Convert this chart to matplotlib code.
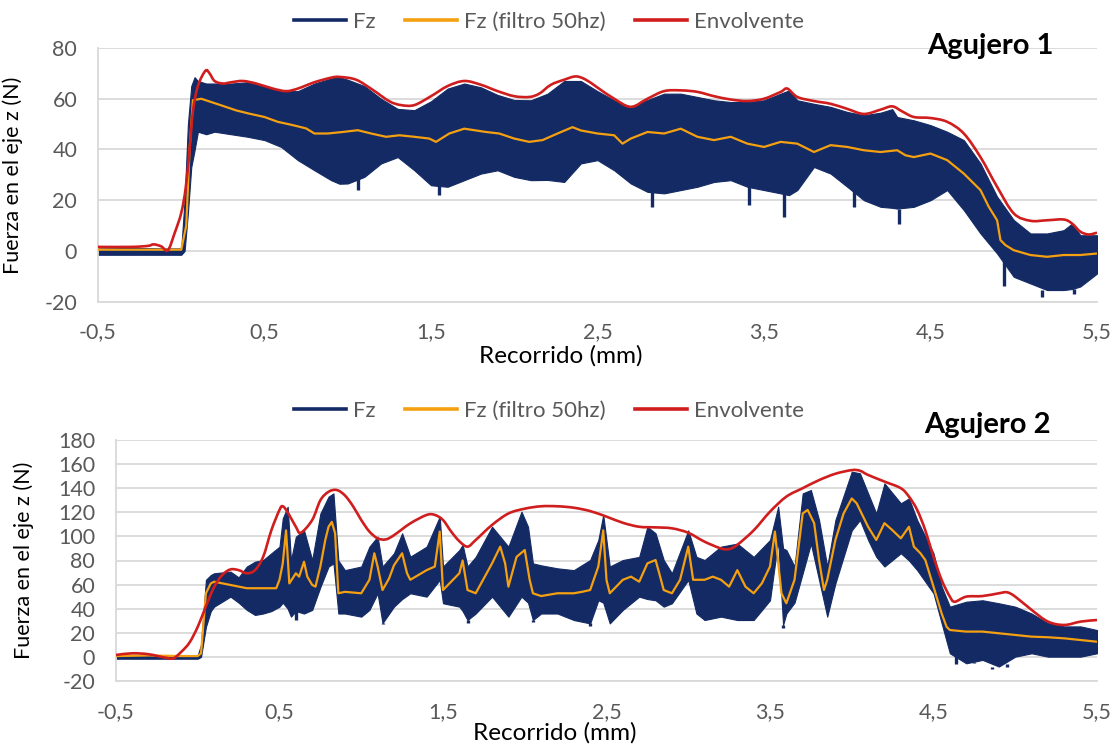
import matplotlib
matplotlib.use("Agg")
import matplotlib.pyplot as plt
from matplotlib.lines import Line2D
from matplotlib.path import Path
from matplotlib.patches import PathPatch
from matplotlib.ticker import FixedLocator, FuncFormatter

# ---------------- Agujero 1 ----------------
x_band1 = [-0.5, -0.3, -0.1, 0.0, 0.02, 0.04, 0.06, 0.08, 0.1, 0.15, 0.2, 0.3, 0.4, 0.5,
           0.6, 0.7, 0.8, 0.9, 0.95, 1.0, 1.1, 1.2, 1.3, 1.4, 1.5, 1.6, 1.7, 1.8, 1.9,
           2.0, 2.1, 2.2, 2.3, 2.4, 2.5, 2.6, 2.7, 2.8, 2.9, 3.0, 3.1, 3.2, 3.3, 3.4,
           3.5, 3.6, 3.65, 3.7, 3.8, 3.9, 4.0, 4.1, 4.2, 4.27, 4.3, 4.4, 4.5, 4.6, 4.7,
           4.8, 4.9, 5.0, 5.1, 5.2, 5.3, 5.35, 5.4, 5.5]
fz_max1 = [1.0, 1.2, 1.0, 1.0, 20, 50, 65, 68.5, 67, 66, 66, 66, 66.5, 65,
           63, 63, 66, 68, 68.5, 67.5, 65, 60, 56, 55.5, 59, 64, 66, 64.5, 61.5,
           59.5, 59.4, 62, 67, 67, 63, 59.4, 56.8, 59.5, 62, 62, 60.7, 59.4, 58.7, 58.7,
           59.4, 62, 63.3, 59.4, 58, 56.8, 54.8, 53.5, 54.5, 55.9, 52.8, 51.5, 49.6, 47, 43.7,
           34.5, 21.4, 12.2, 6.9, 6.9, 8.2, 10.8, 6.2, 6.2]
fz_min1 = [-1.5, -1.5, -1.5, -1.5, 0, 15, 33, 39.7, 47, 46, 47, 46, 45, 43.7,
           41, 35.8, 31.8, 27.9, 26.5, 26.6, 29.2, 34.5, 37, 31.8, 25.9, 25.3, 27.9, 30.5, 31.8,
           29.2, 27.9, 28, 27.2, 34.5, 35.8, 31.8, 26.6, 23.3, 22.7, 24, 25.3, 27.2, 27.9, 25.3,
           24, 22.7, 22, 24, 33.1, 30.5, 25.3, 20, 17.4, 17, 16.7, 17.4, 20, 24, 16.1,
           6.9, -1, -10.2, -12.8, -15.4, -15.4, -15, -14, -8.9]
# isolated downward peaks of the raw signal
spike_x1 = [1.06, 1.55, 2.83, 3.41, 3.62, 4.04, 4.31, 4.94, 5.17, 5.36]
spike_y1 = [24, 22, 17.4, 18, 13.5, 17.4, 10.8, -14, -18, -17]

x_filt1 = [-0.5, -0.3, -0.1, 0.0, 0.03, 0.05, 0.07, 0.12, 0.18, 0.24, 0.33, 0.41, 0.5, 0.58,
           0.67, 0.75, 0.8, 0.88, 0.97, 1.06, 1.14, 1.23, 1.31, 1.4, 1.49, 1.53, 1.61, 1.7,
           1.76, 1.83, 1.91, 2.0, 2.09, 2.17, 2.26, 2.35, 2.4, 2.5, 2.6, 2.65, 2.7, 2.8,
           2.9, 3.0, 3.1, 3.2, 3.3, 3.4, 3.5, 3.6, 3.7, 3.8, 3.9, 4.0, 4.1, 4.2, 4.3,
           4.35, 4.4, 4.5, 4.6, 4.7, 4.8, 4.85, 4.9, 4.92, 4.95, 5.0, 5.1, 5.2, 5.3, 5.4, 5.5]
fz_filt1 = [0.5, 0.5, 0.5, 0.5, 10, 40, 59.4, 60, 58.7, 57.4, 55.4, 54.1, 52.8, 50.9,
            49.6, 48.3, 46.3, 46.3, 46.9, 47.6, 46.3, 45, 45.6, 45, 44.3, 43, 46.3, 48.2,
            47.6, 46.9, 46.3, 44.3, 43, 43.7, 46.3, 48.8, 47.5, 46.3, 45.6, 42.3, 44.3, 46.9,
            46.3, 48.2, 45, 43.7, 45, 42.3, 41, 43, 42.3, 39, 41.7, 41, 39.7, 39, 39.7,
            37.7, 37, 38.4, 35.8, 30.5, 24, 17.4, 12.1, 4.3, 2.3, 0.3, -1.6, -2.3, -1.6, -1.6, -1]

x_env1 = [-0.5, -0.3, -0.2, -0.165, -0.12, -0.08, -0.04, 0.0, 0.027, 0.05, 0.07, 0.1, 0.145,
          0.17, 0.2, 0.25, 0.3, 0.37, 0.45, 0.55, 0.63, 0.7, 0.8, 0.9, 0.95, 1.05, 1.15,
          1.25, 1.32, 1.4, 1.5, 1.6, 1.7, 1.8, 1.9, 2.0, 2.09, 2.15, 2.22, 2.3, 2.37, 2.43,
          2.5, 2.6, 2.7, 2.8, 2.9, 3.0, 3.1, 3.2, 3.3, 3.4, 3.5, 3.6, 3.64, 3.7, 3.8, 3.9,
          4.0, 4.1, 4.2, 4.27, 4.33, 4.4, 4.5, 4.6, 4.7, 4.8, 4.9, 5.0, 5.1, 5.2, 5.3, 5.35,
          5.4, 5.45, 5.5]
env1 = [1.6, 1.6, 2.0, 2.6, 1.8, 0.3, 7, 15, 25, 40, 55, 65, 71,
        70, 67, 66, 66.5, 67, 66, 64, 63, 64, 66.5, 68.3, 68.6, 67.5, 63.5,
        59, 57.5, 57.5, 61, 65, 67, 65.5, 63, 61, 60.7, 62, 65.5, 67.5, 68.8, 67.5,
        64.4, 60, 56.8, 60, 63, 63.3, 62.7, 61, 59.7, 59.1, 60, 62.7, 64, 60.7, 59.1, 58,
        56, 54, 55.7, 57, 55, 52.8, 52.4, 50.9, 46.3, 37, 25.3, 14.8, 11.9, 12.1, 12.4, 10.8,
        7.6, 6.5, 7.2]

# ---------------- Agujero 2 ----------------
x_band2 = [-0.5, -0.1, 0.0, 0.02, 0.05, 0.08, 0.1, 0.2, 0.25, 0.3, 0.35, 0.4, 0.45, 0.5,
           0.52, 0.55, 0.57, 0.6, 0.65, 0.7, 0.75, 0.8, 0.83, 0.86, 0.9, 1.0, 1.05, 1.1,
           1.13, 1.2, 1.25, 1.3, 1.4, 1.48, 1.5, 1.6, 1.62, 1.65, 1.7, 1.8, 1.9, 1.98,
           2.02, 2.05, 2.1, 2.2, 2.3, 2.4, 2.45, 2.48, 2.52, 2.6, 2.7, 2.75, 2.8, 2.85,
           2.9, 3.0, 3.05, 3.1, 3.2, 3.3, 3.4, 3.5, 3.55, 3.58, 3.6, 3.65, 3.7, 3.75,
           3.8, 3.85, 3.9, 4.0, 4.05, 4.1, 4.15, 4.2, 4.3, 4.35, 4.4, 4.5, 4.55, 4.6,
           4.7, 4.8, 4.9, 5.0, 5.1, 5.2, 5.3, 5.4, 5.5]
fz_max2 = [1.5, 1.5, 1.5, 10, 64, 68, 69.4, 70.8, 66, 75, 79, 80.4, 86, 91.5,
           115, 124.6, 80, 99.8, 105, 80.4, 119, 133, 135.7, 80, 72, 75, 91.5, 99.8,
           75, 86, 102.6, 83.2, 91.5, 116.4, 75, 88.7, 93, 75, 83, 108, 91.5, 120.5,
           108, 77.6, 76, 73.5, 72, 80.4, 97, 117.8, 75, 80.4, 83, 108, 102.6, 80.4,
           69.4, 105, 83, 80.4, 91.5, 94, 83, 97, 124.7, 90, 88.7, 75, 135.7, 138.5,
           113.6, 75, 113.6, 153.7, 152.4, 135.7, 119, 144, 127.5, 131.5, 113.6, 86, 58.3, 41.7,
           45.8, 47, 44.5, 41.7, 36, 28, 25.3, 25.3, 22.3]
fz_min2 = [-1.5, -1.5, -1.5, 0, 25, 38, 41.7, 50, 45, 39, 34.8, 36, 38, 41.7,
           45, 40, 33.4, 38, 36, 39, 58, 75, 77.6, 36, 36, 33.4, 39, 52.8,
           28, 41.7, 48, 52.8, 50, 63.9, 44.5, 41.7, 38, 30.6, 36, 50, 33.4, 50,
           45, 30.6, 36, 36, 30.6, 27.8, 47, 45, 27.8, 39, 50, 48, 47, 41.7,
           44.5, 63.8, 36, 30.6, 33.4, 30.6, 30.6, 47, 97, 26.5, 36, 45, 69.4, 94,
           63.8, 33.4, 61, 105, 113.6, 97, 83, 75, 86, 80, 72, 52.8, 27.8, 3,
           -5.3, -2.5, -8, 0.2, 3, 0.2, 0.2, 0.2, 3]
spike_x2 = [0.6, 1.13, 1.65, 2.05, 2.4, 3.58, 4.64, 4.75, 4.86, 4.95]
spike_y2 = [31, 27, 28, 29, 26, 24, -6, -4, -10, -6]

x_filt2 = [-0.5, -0.3, -0.1, 0.0, 0.02, 0.05, 0.08, 0.1, 0.2, 0.3, 0.4, 0.48, 0.5, 0.52,
           0.54, 0.56, 0.6, 0.62, 0.65, 0.67, 0.7, 0.72, 0.75, 0.78, 0.8, 0.82, 0.84, 0.86,
           0.9, 1.0, 1.05, 1.08, 1.1, 1.13, 1.17, 1.2, 1.25, 1.28, 1.3, 1.4, 1.45, 1.48,
           1.5, 1.6, 1.62, 1.65, 1.7, 1.8, 1.85, 1.88, 1.9, 1.95, 2.0, 2.03, 2.05, 2.1,
           2.2, 2.3, 2.35, 2.4, 2.45, 2.48, 2.5, 2.52, 2.6, 2.65, 2.7, 2.75, 2.8, 2.82,
           2.85, 2.9, 2.95, 3.0, 3.03, 3.1, 3.15, 3.2, 3.25, 3.3, 3.35, 3.4, 3.45, 3.5,
           3.53, 3.57, 3.6, 3.65, 3.7, 3.73, 3.77, 3.8, 3.83, 3.85, 3.9, 3.95, 4.0, 4.03,
           4.1, 4.15, 4.2, 4.25, 4.3, 4.35, 4.38, 4.42, 4.45, 4.5, 4.55, 4.58, 4.6, 4.7,
           4.8, 4.9, 5.0, 5.1, 5.2, 5.3, 5.4, 5.5]
fz_filt2 = [0.7, 1.2, 0.7, 0.7, 3, 52.8, 61, 62.4, 59.7, 57, 57, 57, 64, 77.6,
            105, 61, 69.4, 66.6, 79, 66.6, 59.7, 58.3, 75, 97, 108, 112, 102.6, 52.8,
            54, 52.8, 64, 86, 75, 55.5, 65, 76, 86, 69.4, 64, 72, 75, 104,
            55.5, 69.4, 80, 55.5, 52.8, 77.6, 91.5, 77.6, 58.3, 83, 88.7, 64, 52.8, 50.5,
            52.8, 52.8, 54, 55.5, 75, 105, 63.8, 52.8, 64, 66.6, 62.4, 77.6, 80.4, 70.7,
            55.5, 52.8, 64, 91.5, 64, 64, 66.6, 64, 58.3, 72, 58.3, 52.8, 61, 75,
            104, 52.8, 44.5, 64, 119, 122, 111, 80.4, 55.5, 64, 97, 119, 131.5, 127.5,
            108, 97, 111, 105, 98.4, 108, 91.5, 86, 80.4, 58.3, 36, 25, 22.3, 21,
            21, 19.6, 18.2, 16.8, 16.3, 15.4, 14, 12.6]

x_env2 = [-0.5, -0.4, -0.3, -0.2, -0.15, -0.1, -0.05, 0.0, 0.05, 0.1, 0.15, 0.2, 0.25, 0.3,
          0.35, 0.4, 0.45, 0.5, 0.52, 0.55, 0.6, 0.63, 0.7, 0.75, 0.8, 0.85, 0.9, 0.95,
          1.0, 1.05, 1.1, 1.15, 1.2, 1.3, 1.4, 1.45, 1.5, 1.55, 1.6, 1.65, 1.7, 1.8,
          1.9, 2.0, 2.1, 2.2, 2.3, 2.4, 2.5, 2.6, 2.7, 2.8, 2.9, 3.0, 3.1, 3.2,
          3.25, 3.3, 3.4, 3.5, 3.6, 3.7, 3.8, 3.9, 4.0, 4.05, 4.1, 4.2, 4.3, 4.35,
          4.4, 4.45, 4.5, 4.55, 4.6, 4.63, 4.7, 4.8, 4.9, 4.95, 5.0, 5.1, 5.2, 5.3,
          5.4, 5.5]
env2 = [1.6, 3, 2.2, -0.6, -1.2, 4.3, 12, 25, 42, 58, 68, 72.6, 72, 69.4,
        72, 83, 105, 122, 125, 120, 108, 103, 113.6, 130, 137, 138.5, 134, 125,
        113.6, 104, 98.4, 97.5, 101, 110.8, 117.8, 117.8, 113.6, 104, 96, 91.5, 97, 109.5,
        119, 123, 125, 125, 123.8, 121, 116.4, 111.3, 108, 107.5, 106.7, 103, 95.6, 90,
        89.5, 93, 105, 120.5, 133, 140, 146.7, 152, 155, 154.5, 151, 145.5, 140, 133,
        122, 105, 83, 63.8, 50, 45.8, 50, 50.5, 52.8, 53.6, 50, 39, 29.3, 26.5,
        29.3, 30.6]

x_ticks = [-0.5, 0.5, 1.5, 2.5, 3.5, 4.5, 5.5]
series_labels = ["Fz", "Fz (filtro 50hz)", "Envolvente"]
titles = ["Agujero 1", "Agujero 2"]

C_FZ = "#132a64"
C_FILT = "#f5a011"
C_ENV = "#d01d1d"
C_GRID = "#d9d9d9"
C_TXT = "#595959"

plt.rcParams["font.family"] = ["Lato", "DejaVu Sans"]

fig = plt.figure(figsize=(11.16, 7.45), dpi=100)
ax1 = fig.add_axes([98 / 1116, 1 - 301.7 / 745, 999 / 1116, 253.7 / 745])
ax2 = fig.add_axes([116 / 1116, 1 - 681 / 745, 981 / 1116, 241 / 745])


def smooth_curve(ax, xs, ys, **kw):
    """Smoothed line through the given points (Catmull-Rom as cubic Bezier segments)."""
    pts = list(zip(xs, ys))
    verts = [pts[0]]
    codes = [Path.MOVETO]
    n = len(pts)
    for i in range(n - 1):
        p0 = pts[i - 1] if i > 0 else pts[i]
        p1 = pts[i]
        p2 = pts[i + 1]
        p3 = pts[i + 2] if i + 2 < n else pts[i + 1]
        c1 = (p1[0] + (p2[0] - p0[0]) / 6, p1[1] + (p2[1] - p0[1]) / 6)
        c2 = (p2[0] - (p3[0] - p1[0]) / 6, p2[1] - (p3[1] - p1[1]) / 6)
        verts += [c1, c2, p2]
        codes += [Path.CURVE4] * 3
    ax.add_patch(PathPatch(Path(verts, codes), fill=False, **kw))


def style(ax, ylim, ystep, ylab_x, xlab_x, xlab_y):
    ax.set_xlim(-0.5, 5.5)
    ax.set_ylim(*ylim)
    ax.xaxis.set_major_locator(FixedLocator(x_ticks))
    ax.yaxis.set_major_locator(FixedLocator(list(range(ylim[0], ylim[1] + 1, ystep))))
    ax.xaxis.set_major_formatter(FuncFormatter(lambda v, p: f"{v:.1f}".replace(".", ",")))
    ax.yaxis.set_major_formatter(FuncFormatter(lambda v, p: f"{v:.0f}"))
    ax.grid(axis="y", color=C_GRID, linewidth=1.3, zorder=0)
    ax.set_axisbelow(True)
    for s in ("top", "right"):
        ax.spines[s].set_visible(False)
    for s in ("left", "bottom"):
        ax.spines[s].set_color(C_GRID)
        ax.spines[s].set_linewidth(1.3)
    ax.tick_params(length=0, labelsize=15.5, labelcolor=C_TXT, pad=15)
    ax.set_xlabel("Recorrido (mm)", fontsize=17.5, color="black")
    ax.set_ylabel("Fuerza en el eje z (N)", fontsize=15.5, color="black")
    ax.yaxis.set_label_coords(ylab_x, 0.5)
    ax.xaxis.set_label_coords(xlab_x, xlab_y)


def draw(ax, xb, lo, hi, sx, sy, xf, yf, xe, ye):
    ax.fill_between(xb, lo, hi, color=C_FZ, linewidth=0.8, edgecolor=C_FZ, zorder=2)
    lo_at = [lo[min(range(len(xb)), key=lambda k: abs(xb[k] - s))] for s in sx]
    ax.vlines(sx, sy, lo_at, color=C_FZ, linewidth=2.4, zorder=2)
    ax.plot(xf, yf, color=C_FILT, linewidth=1.6, zorder=3)
    smooth_curve(ax, xe, ye, edgecolor=C_ENV, linewidth=1.9, zorder=4)


draw(ax1, x_band1, fz_min1, fz_max1, spike_x1, spike_y1, x_filt1, fz_filt1, x_env1, env1)
draw(ax2, x_band2, fz_min2, fz_max2, spike_x2, spike_y2, x_filt2, fz_filt2, x_env2, env2)
style(ax1, (-20, 80), 20, -0.075, 0.463, -0.17)
style(ax2, (-20, 180), 20, -0.084, 0.4475, -0.172)

handles = [Line2D([], [], color=C_FZ, linewidth=2.6),
           Line2D([], [], color=C_FILT, linewidth=2.6),
           Line2D([], [], color=C_ENV, linewidth=2.6)]

for ycen in (22, 411):
    fig.legend(handles, series_labels, loc="center", ncol=3,
               bbox_to_anchor=(549 / 1116, 1 - ycen / 745), frameon=False,
               fontsize=16, labelcolor=C_TXT, handlelength=2.35,
               handletextpad=0.32, columnspacing=1.3, borderaxespad=0, borderpad=0)

fig.text(990 / 1116, 1 - 46 / 745, titles[0], fontsize=21, fontweight="bold",
         ha="center", va="center", color="black")
fig.text(987 / 1116, 1 - 425 / 745, titles[1], fontsize=21, fontweight="bold",
         ha="center", va="center", color="black")

fig.savefig("out.png", dpi=100)
